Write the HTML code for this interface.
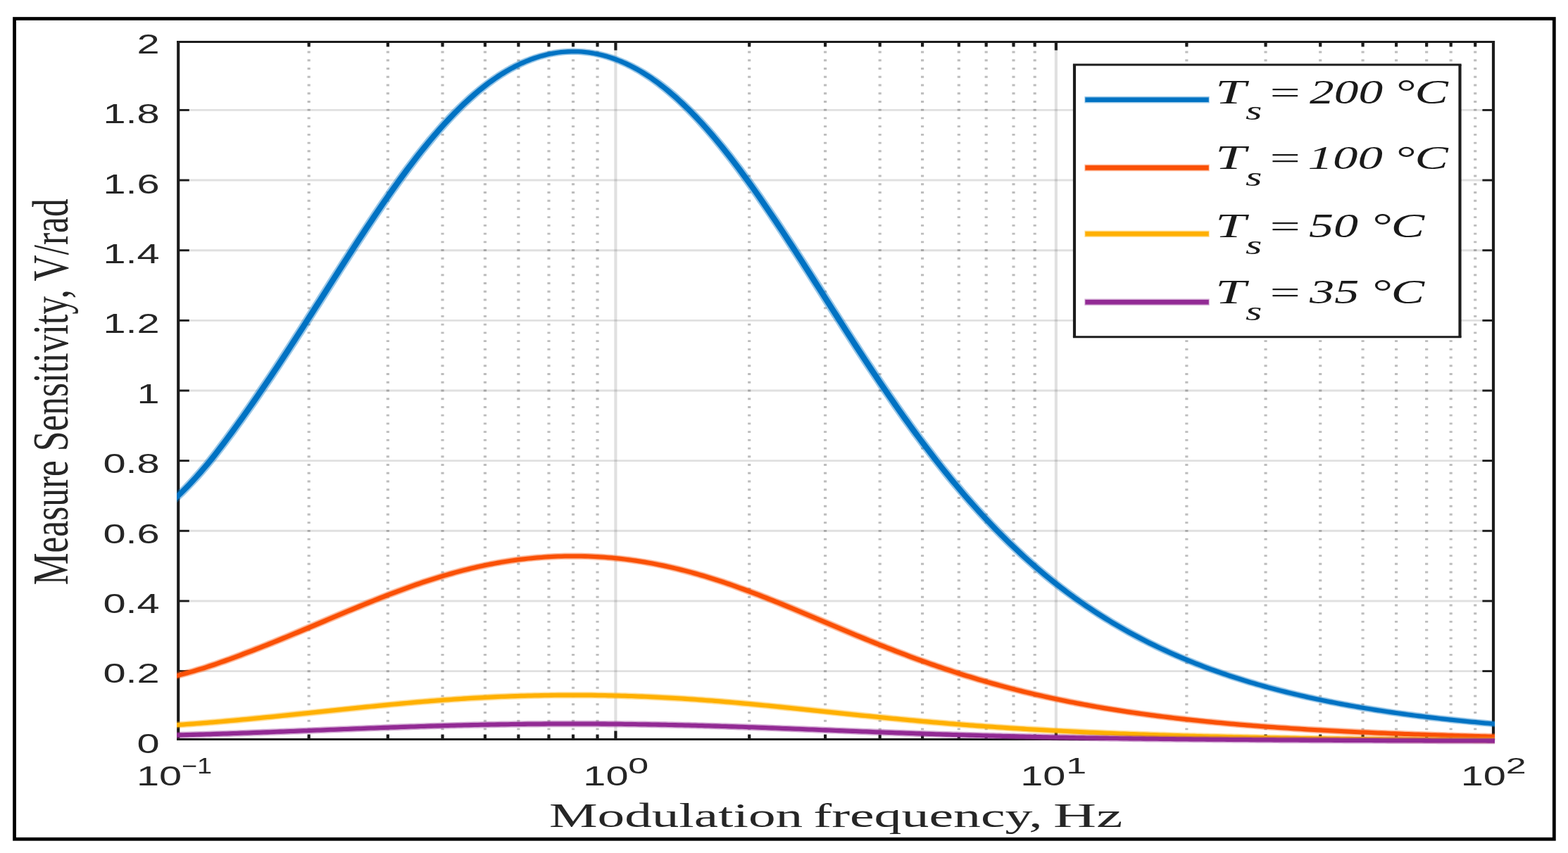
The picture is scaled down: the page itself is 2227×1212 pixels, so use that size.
<!DOCTYPE html>
<html lang="en">
<head>
<meta charset="utf-8">
<title>Measure Sensitivity vs Modulation frequency</title>
<style>
html,body{margin:0;padding:0;background:#ffffff;}
body{width:2227px;height:1212px;overflow:hidden;}
svg{display:block;}
</style>
</head>
<body>
<svg width="2227" height="1212" viewBox="0 0 2227 1212" role="img" aria-label="Measure Sensitivity versus Modulation frequency">
<rect x="0" y="0" width="2227" height="1212" fill="#ffffff"/>
<g id="chart">
<g id="grid">
<line x1="253.2" y1="953.60" x2="2121.0" y2="953.60" stroke="#262626" stroke-opacity="0.145" stroke-width="2.9"/>
<line x1="253.2" y1="853.95" x2="2121.0" y2="853.95" stroke="#262626" stroke-opacity="0.145" stroke-width="2.9"/>
<line x1="253.2" y1="754.30" x2="2121.0" y2="754.30" stroke="#262626" stroke-opacity="0.145" stroke-width="2.9"/>
<line x1="253.2" y1="654.65" x2="2121.0" y2="654.65" stroke="#262626" stroke-opacity="0.145" stroke-width="2.9"/>
<line x1="253.2" y1="555.00" x2="2121.0" y2="555.00" stroke="#262626" stroke-opacity="0.145" stroke-width="2.9"/>
<line x1="253.2" y1="455.35" x2="2121.0" y2="455.35" stroke="#262626" stroke-opacity="0.145" stroke-width="2.9"/>
<line x1="253.2" y1="355.70" x2="2121.0" y2="355.70" stroke="#262626" stroke-opacity="0.145" stroke-width="2.9"/>
<line x1="253.2" y1="256.05" x2="2121.0" y2="256.05" stroke="#262626" stroke-opacity="0.145" stroke-width="2.9"/>
<line x1="253.2" y1="156.40" x2="2121.0" y2="156.40" stroke="#262626" stroke-opacity="0.145" stroke-width="2.9"/>
<line x1="874.40" y1="59.5" x2="874.40" y2="1050.5" stroke="#262626" stroke-opacity="0.145" stroke-width="4.15"/>
<line x1="1499.90" y1="59.5" x2="1499.90" y2="1050.5" stroke="#262626" stroke-opacity="0.145" stroke-width="4.15"/>
<line x1="438.71" y1="60.87" x2="438.71" y2="1050.50" stroke="#262626" stroke-opacity="0.30" stroke-width="4.15" stroke-dasharray="2.9 8.83"/>
<line x1="550.87" y1="60.87" x2="550.87" y2="1050.50" stroke="#262626" stroke-opacity="0.30" stroke-width="4.15" stroke-dasharray="2.9 8.83"/>
<line x1="628.51" y1="60.87" x2="628.51" y2="1050.50" stroke="#262626" stroke-opacity="0.30" stroke-width="4.15" stroke-dasharray="2.9 8.83"/>
<line x1="688.91" y1="60.87" x2="688.91" y2="1050.50" stroke="#262626" stroke-opacity="0.30" stroke-width="4.15" stroke-dasharray="2.9 8.83"/>
<line x1="736.36" y1="60.87" x2="736.36" y2="1050.50" stroke="#262626" stroke-opacity="0.30" stroke-width="4.15" stroke-dasharray="2.9 8.83"/>
<line x1="779.50" y1="60.87" x2="779.50" y2="1050.50" stroke="#262626" stroke-opacity="0.30" stroke-width="4.15" stroke-dasharray="2.9 8.83"/>
<line x1="814.01" y1="60.87" x2="814.01" y2="1050.50" stroke="#262626" stroke-opacity="0.30" stroke-width="4.15" stroke-dasharray="2.9 8.83"/>
<line x1="848.52" y1="60.87" x2="848.52" y2="1050.50" stroke="#262626" stroke-opacity="0.30" stroke-width="4.15" stroke-dasharray="2.9 8.83"/>
<line x1="1064.21" y1="60.87" x2="1064.21" y2="1050.50" stroke="#262626" stroke-opacity="0.30" stroke-width="4.15" stroke-dasharray="2.9 8.83"/>
<line x1="1172.05" y1="60.87" x2="1172.05" y2="1050.50" stroke="#262626" stroke-opacity="0.30" stroke-width="4.15" stroke-dasharray="2.9 8.83"/>
<line x1="1249.70" y1="60.87" x2="1249.70" y2="1050.50" stroke="#262626" stroke-opacity="0.30" stroke-width="4.15" stroke-dasharray="2.9 8.83"/>
<line x1="1310.09" y1="60.87" x2="1310.09" y2="1050.50" stroke="#262626" stroke-opacity="0.30" stroke-width="4.15" stroke-dasharray="2.9 8.83"/>
<line x1="1361.86" y1="60.87" x2="1361.86" y2="1050.50" stroke="#262626" stroke-opacity="0.30" stroke-width="4.15" stroke-dasharray="2.9 8.83"/>
<line x1="1400.68" y1="60.87" x2="1400.68" y2="1050.50" stroke="#262626" stroke-opacity="0.30" stroke-width="4.15" stroke-dasharray="2.9 8.83"/>
<line x1="1439.51" y1="60.87" x2="1439.51" y2="1050.50" stroke="#262626" stroke-opacity="0.30" stroke-width="4.15" stroke-dasharray="2.9 8.83"/>
<line x1="1469.70" y1="60.87" x2="1469.70" y2="1050.50" stroke="#262626" stroke-opacity="0.30" stroke-width="4.15" stroke-dasharray="2.9 8.83"/>
<line x1="1685.39" y1="60.87" x2="1685.39" y2="1050.50" stroke="#262626" stroke-opacity="0.30" stroke-width="4.15" stroke-dasharray="2.9 8.83"/>
<line x1="1797.55" y1="60.87" x2="1797.55" y2="1050.50" stroke="#262626" stroke-opacity="0.30" stroke-width="4.15" stroke-dasharray="2.9 8.83"/>
<line x1="1875.20" y1="60.87" x2="1875.20" y2="1050.50" stroke="#262626" stroke-opacity="0.30" stroke-width="4.15" stroke-dasharray="2.9 8.83"/>
<line x1="1935.59" y1="60.87" x2="1935.59" y2="1050.50" stroke="#262626" stroke-opacity="0.30" stroke-width="4.15" stroke-dasharray="2.9 8.83"/>
<line x1="1983.05" y1="60.87" x2="1983.05" y2="1050.50" stroke="#262626" stroke-opacity="0.30" stroke-width="4.15" stroke-dasharray="2.9 8.83"/>
<line x1="2026.18" y1="60.87" x2="2026.18" y2="1050.50" stroke="#262626" stroke-opacity="0.30" stroke-width="4.15" stroke-dasharray="2.9 8.83"/>
<line x1="2060.69" y1="60.87" x2="2060.69" y2="1050.50" stroke="#262626" stroke-opacity="0.30" stroke-width="4.15" stroke-dasharray="2.9 8.83"/>
<line x1="2095.21" y1="60.87" x2="2095.21" y2="1050.50" stroke="#262626" stroke-opacity="0.30" stroke-width="4.15" stroke-dasharray="2.9 8.83"/>
</g>
<g id="ticks" stroke="#1c1c1c">
<line x1="253.2" y1="953.60" x2="268.77" y2="953.60" stroke-width="2.9"/>
<line x1="2121.0" y1="953.60" x2="2105.43" y2="953.60" stroke-width="2.9"/>
<line x1="253.2" y1="853.95" x2="268.77" y2="853.95" stroke-width="2.9"/>
<line x1="2121.0" y1="853.95" x2="2105.43" y2="853.95" stroke-width="2.9"/>
<line x1="253.2" y1="754.30" x2="268.77" y2="754.30" stroke-width="2.9"/>
<line x1="2121.0" y1="754.30" x2="2105.43" y2="754.30" stroke-width="2.9"/>
<line x1="253.2" y1="654.65" x2="268.77" y2="654.65" stroke-width="2.9"/>
<line x1="2121.0" y1="654.65" x2="2105.43" y2="654.65" stroke-width="2.9"/>
<line x1="253.2" y1="555.00" x2="268.77" y2="555.00" stroke-width="2.9"/>
<line x1="2121.0" y1="555.00" x2="2105.43" y2="555.00" stroke-width="2.9"/>
<line x1="253.2" y1="455.35" x2="268.77" y2="455.35" stroke-width="2.9"/>
<line x1="2121.0" y1="455.35" x2="2105.43" y2="455.35" stroke-width="2.9"/>
<line x1="253.2" y1="355.70" x2="268.77" y2="355.70" stroke-width="2.9"/>
<line x1="2121.0" y1="355.70" x2="2105.43" y2="355.70" stroke-width="2.9"/>
<line x1="253.2" y1="256.05" x2="268.77" y2="256.05" stroke-width="2.9"/>
<line x1="2121.0" y1="256.05" x2="2105.43" y2="256.05" stroke-width="2.9"/>
<line x1="253.2" y1="156.40" x2="268.77" y2="156.40" stroke-width="2.9"/>
<line x1="2121.0" y1="156.40" x2="2105.43" y2="156.40" stroke-width="2.9"/>
<line x1="438.71" y1="59.5" x2="438.71" y2="66.45" stroke-width="4.15"/>
<line x1="438.71" y1="1050.5" x2="438.71" y2="1043.55" stroke-width="4.15"/>
<line x1="550.87" y1="59.5" x2="550.87" y2="66.45" stroke-width="4.15"/>
<line x1="550.87" y1="1050.5" x2="550.87" y2="1043.55" stroke-width="4.15"/>
<line x1="628.51" y1="59.5" x2="628.51" y2="66.45" stroke-width="4.15"/>
<line x1="628.51" y1="1050.5" x2="628.51" y2="1043.55" stroke-width="4.15"/>
<line x1="688.91" y1="59.5" x2="688.91" y2="66.45" stroke-width="4.15"/>
<line x1="688.91" y1="1050.5" x2="688.91" y2="1043.55" stroke-width="4.15"/>
<line x1="736.36" y1="59.5" x2="736.36" y2="66.45" stroke-width="4.15"/>
<line x1="736.36" y1="1050.5" x2="736.36" y2="1043.55" stroke-width="4.15"/>
<line x1="779.50" y1="59.5" x2="779.50" y2="66.45" stroke-width="4.15"/>
<line x1="779.50" y1="1050.5" x2="779.50" y2="1043.55" stroke-width="4.15"/>
<line x1="814.01" y1="59.5" x2="814.01" y2="66.45" stroke-width="4.15"/>
<line x1="814.01" y1="1050.5" x2="814.01" y2="1043.55" stroke-width="4.15"/>
<line x1="848.52" y1="59.5" x2="848.52" y2="66.45" stroke-width="4.15"/>
<line x1="848.52" y1="1050.5" x2="848.52" y2="1043.55" stroke-width="4.15"/>
<line x1="874.40" y1="59.5" x2="874.40" y2="71.45" stroke-width="4.15"/>
<line x1="874.40" y1="1050.5" x2="874.40" y2="1038.55" stroke-width="4.15"/>
<line x1="1064.21" y1="59.5" x2="1064.21" y2="66.45" stroke-width="4.15"/>
<line x1="1064.21" y1="1050.5" x2="1064.21" y2="1043.55" stroke-width="4.15"/>
<line x1="1172.05" y1="59.5" x2="1172.05" y2="66.45" stroke-width="4.15"/>
<line x1="1172.05" y1="1050.5" x2="1172.05" y2="1043.55" stroke-width="4.15"/>
<line x1="1249.70" y1="59.5" x2="1249.70" y2="66.45" stroke-width="4.15"/>
<line x1="1249.70" y1="1050.5" x2="1249.70" y2="1043.55" stroke-width="4.15"/>
<line x1="1310.09" y1="59.5" x2="1310.09" y2="66.45" stroke-width="4.15"/>
<line x1="1310.09" y1="1050.5" x2="1310.09" y2="1043.55" stroke-width="4.15"/>
<line x1="1361.86" y1="59.5" x2="1361.86" y2="66.45" stroke-width="4.15"/>
<line x1="1361.86" y1="1050.5" x2="1361.86" y2="1043.55" stroke-width="4.15"/>
<line x1="1400.68" y1="59.5" x2="1400.68" y2="66.45" stroke-width="4.15"/>
<line x1="1400.68" y1="1050.5" x2="1400.68" y2="1043.55" stroke-width="4.15"/>
<line x1="1439.51" y1="59.5" x2="1439.51" y2="66.45" stroke-width="4.15"/>
<line x1="1439.51" y1="1050.5" x2="1439.51" y2="1043.55" stroke-width="4.15"/>
<line x1="1469.70" y1="59.5" x2="1469.70" y2="66.45" stroke-width="4.15"/>
<line x1="1469.70" y1="1050.5" x2="1469.70" y2="1043.55" stroke-width="4.15"/>
<line x1="1499.90" y1="59.5" x2="1499.90" y2="71.45" stroke-width="4.15"/>
<line x1="1499.90" y1="1050.5" x2="1499.90" y2="1038.55" stroke-width="4.15"/>
<line x1="1685.39" y1="59.5" x2="1685.39" y2="66.45" stroke-width="4.15"/>
<line x1="1685.39" y1="1050.5" x2="1685.39" y2="1043.55" stroke-width="4.15"/>
<line x1="1797.55" y1="59.5" x2="1797.55" y2="66.45" stroke-width="4.15"/>
<line x1="1797.55" y1="1050.5" x2="1797.55" y2="1043.55" stroke-width="4.15"/>
<line x1="1875.20" y1="59.5" x2="1875.20" y2="66.45" stroke-width="4.15"/>
<line x1="1875.20" y1="1050.5" x2="1875.20" y2="1043.55" stroke-width="4.15"/>
<line x1="1935.59" y1="59.5" x2="1935.59" y2="66.45" stroke-width="4.15"/>
<line x1="1935.59" y1="1050.5" x2="1935.59" y2="1043.55" stroke-width="4.15"/>
<line x1="1983.05" y1="59.5" x2="1983.05" y2="66.45" stroke-width="4.15"/>
<line x1="1983.05" y1="1050.5" x2="1983.05" y2="1043.55" stroke-width="4.15"/>
<line x1="2026.18" y1="59.5" x2="2026.18" y2="66.45" stroke-width="4.15"/>
<line x1="2026.18" y1="1050.5" x2="2026.18" y2="1043.55" stroke-width="4.15"/>
<line x1="2060.69" y1="59.5" x2="2060.69" y2="66.45" stroke-width="4.15"/>
<line x1="2060.69" y1="1050.5" x2="2060.69" y2="1043.55" stroke-width="4.15"/>
<line x1="2095.21" y1="59.5" x2="2095.21" y2="66.45" stroke-width="4.15"/>
<line x1="2095.21" y1="1050.5" x2="2095.21" y2="1043.55" stroke-width="4.15"/>
</g>
<g id="box" stroke="#1c1c1c" fill="none">
<line x1="251.125" y1="59.5" x2="2123.075" y2="59.5" stroke-width="2.9"/>
<line x1="251.125" y1="1050.5" x2="2123.075" y2="1050.5" stroke-width="2.9"/>
<line x1="253.2" y1="58.05" x2="253.2" y2="1051.95" stroke-width="4.15"/>
<line x1="2121.0" y1="58.05" x2="2121.0" y2="1051.95" stroke-width="4.15"/>
</g>
<clipPath id="cp"><rect x="251.12" y="50" width="1871.95" height="1012"/></clipPath>
<g clip-path="url(#cp)"><g id="curves" fill="none" stroke-linejoin="round" stroke-linecap="butt" transform="scale(1.49,1)">
<polyline points="158.72,719.65 161.91,715.42 165.10,711.07 168.29,706.60 171.48,702.02 174.67,697.31 177.86,692.48 181.05,687.52 184.24,682.43 187.43,677.20 190.62,671.84 193.81,666.34 197.00,660.70 200.19,654.92 203.38,649.00 206.57,642.92 209.76,636.70 212.95,630.39 216.14,624.02 219.33,617.59 222.52,611.09 225.71,604.54 228.90,597.92 232.09,591.25 235.28,584.52 238.47,577.73 241.66,570.90 244.85,564.00 248.04,557.06 251.23,550.07 254.42,543.03 257.61,535.95 260.80,528.82 263.99,521.66 267.18,514.45 270.37,507.21 273.56,499.93 276.75,492.62 279.94,485.28 283.13,477.91 286.32,470.52 289.51,463.10 292.70,455.67 295.89,448.22 299.08,440.76 302.27,433.29 305.46,425.81 308.65,418.33 311.84,410.85 315.03,403.37 318.22,395.90 321.41,388.44 324.60,381.00 327.79,373.56 330.98,366.15 334.17,358.77 337.36,351.41 340.55,344.08 343.74,336.79 346.93,329.54 350.12,322.33 353.31,315.17 356.50,308.05 359.69,300.99 362.88,293.99 366.07,287.05 369.26,280.17 372.45,273.36 375.64,266.62 378.83,259.95 382.02,253.37 385.21,246.86 388.40,240.44 391.59,234.11 394.78,227.87 397.97,221.72 401.16,215.67 404.35,209.72 407.54,203.88 410.73,198.14 413.92,192.51 417.11,186.99 420.30,181.58 423.49,176.29 426.68,171.11 429.87,166.06 433.06,161.13 436.25,156.32 439.44,151.63 442.63,147.08 445.82,142.65 449.01,138.35 452.20,134.18 455.39,130.15 458.58,126.25 461.77,122.48 464.96,118.85 468.15,115.36 471.34,112.00 474.53,108.78 477.72,105.70 480.91,102.76 484.10,99.95 487.29,97.29 490.48,94.76 493.67,92.38 496.86,90.13 500.05,88.02 503.24,86.06 506.43,84.23 509.62,82.54 512.80,81.00 515.99,79.59 519.18,78.32 522.37,77.20 525.56,76.21 528.75,75.36 531.94,74.65 535.13,74.08 538.32,73.66 541.51,73.37 544.70,73.22 547.89,73.20 551.08,73.33 554.27,73.60 557.46,74.01 560.65,74.55 563.84,75.24 567.03,76.07 570.22,77.03 573.41,78.14 576.60,79.38 579.79,80.77 582.98,82.29 586.17,83.95 589.36,85.76 592.55,87.70 595.74,89.79 598.93,92.01 602.12,94.38 605.31,96.88 608.50,99.52 611.69,102.30 614.88,105.23 618.07,108.29 621.26,111.48 624.45,114.82 627.64,118.29 630.83,121.90 634.02,125.65 637.21,129.53 640.40,133.54 643.59,137.68 646.78,141.96 649.97,146.37 653.16,150.91 656.35,155.57 659.54,160.36 662.73,165.27 665.92,170.31 669.11,175.46 672.30,180.74 675.49,186.12 678.68,191.63 681.87,197.24 685.06,202.97 688.25,208.79 691.44,214.73 694.63,220.76 697.82,226.89 701.01,233.12 704.20,239.43 707.39,245.84 710.58,252.33 713.77,258.91 716.96,265.56 720.15,272.29 723.34,279.09 726.53,285.95 729.72,292.89 732.91,299.88 736.10,306.93 739.29,314.04 742.48,321.20 745.67,328.40 748.86,335.65 752.05,342.93 755.24,350.25 758.43,357.61 761.62,364.99 764.81,372.39 768.00,379.82 771.19,387.27 774.38,394.72 777.57,402.19 780.76,409.67 783.95,417.15 787.14,424.63 790.33,432.11 793.52,439.58 796.71,447.05 799.90,454.50 803.09,461.93 806.28,469.35 809.47,476.74 812.66,484.11 815.85,491.46 819.04,498.77 822.23,506.06 825.42,513.31 828.61,520.52 831.80,527.70 834.99,534.83 838.18,541.92 841.37,548.96 844.56,555.96 847.75,562.91 850.94,569.81 854.13,576.66 857.32,583.45 860.51,590.19 863.70,596.87 866.89,603.50 870.08,610.06 873.27,616.57 876.46,623.01 879.65,629.39 882.84,635.71 886.03,641.97 889.22,648.16 892.41,654.28 895.60,660.34 898.79,666.34 901.98,672.27 905.17,678.13 908.36,683.92 911.55,689.64 914.74,695.30 917.93,700.89 921.12,706.41 924.31,711.86 927.50,717.25 930.69,722.56 933.88,727.81 937.07,732.99 940.26,738.10 943.45,743.15 946.64,748.12 949.83,753.03 953.02,757.88 956.21,762.65 959.40,767.36 962.59,772.01 965.78,776.59 968.97,781.10 972.16,785.54 975.35,789.92 978.54,794.24 981.73,798.49 984.92,802.68 988.11,806.80 991.30,810.86 994.49,814.86 997.68,818.80 1000.87,822.68 1004.06,826.50 1007.25,830.25 1010.44,833.95 1013.63,837.60 1016.82,841.18 1020.01,844.71 1023.20,848.18 1026.39,851.60 1029.58,854.96 1032.77,858.27 1035.96,861.52 1039.15,864.73 1042.34,867.88 1045.53,870.98 1048.72,874.03 1051.91,877.03 1055.10,879.98 1058.29,882.88 1061.48,885.74 1064.67,888.55 1067.86,891.31 1071.05,894.03 1074.24,896.70 1077.43,899.33 1080.62,901.92 1083.81,904.46 1087.00,906.96 1090.19,909.42 1093.38,911.84 1096.57,914.21 1099.76,916.55 1102.95,918.85 1106.14,921.11 1109.33,923.33 1112.52,925.52 1115.71,927.67 1118.90,929.78 1122.09,931.86 1125.28,933.90 1128.47,935.91 1131.66,937.88 1134.85,939.82 1138.04,941.73 1141.23,943.61 1144.42,945.45 1147.61,947.27 1150.80,949.05 1153.99,950.80 1157.18,952.52 1160.37,954.22 1163.56,955.88 1166.75,957.52 1169.94,959.13 1173.13,960.71 1176.32,962.26 1179.51,963.79 1182.70,965.30 1185.89,966.77 1189.08,968.23 1192.27,969.65 1195.46,971.06 1198.65,972.44 1201.84,973.79 1205.03,975.13 1208.22,976.44 1211.41,977.72 1214.60,978.99 1217.79,980.23 1220.98,981.46 1224.17,982.66 1227.36,983.84 1230.55,985.01 1233.74,986.15 1236.93,987.27 1240.12,988.38 1243.31,989.46 1246.50,990.53 1249.69,991.58 1252.88,992.61 1256.07,993.62 1259.26,994.62 1262.45,995.60 1265.64,996.56 1268.83,997.51 1272.02,998.44 1275.21,999.35 1278.40,1000.25 1281.59,1001.13 1284.78,1002.00 1287.97,1002.86 1291.16,1003.70 1294.35,1004.52 1297.54,1005.33 1300.73,1006.13 1303.92,1006.91 1307.10,1007.68 1310.29,1008.44 1313.48,1009.19 1316.67,1009.92 1319.86,1010.64 1323.05,1011.35 1326.24,1012.04 1329.43,1012.73 1332.62,1013.40 1335.81,1014.06 1339.00,1014.71 1342.19,1015.35 1345.38,1015.98 1348.57,1016.60 1351.76,1017.20 1354.95,1017.80 1358.14,1018.39 1361.33,1018.96 1364.52,1019.53 1367.71,1020.09 1370.90,1020.64 1374.09,1021.18 1377.28,1021.71 1380.47,1022.23 1383.66,1022.74 1386.85,1023.24 1390.04,1023.74 1393.23,1024.22 1396.42,1024.70 1399.61,1025.17 1402.80,1025.64 1405.99,1026.09 1409.18,1026.54 1412.37,1026.98 1415.56,1027.41 1418.75,1027.84 1421.94,1028.25 1425.13,1028.67 1428.32,1029.07 1431.51,1029.47 1434.70,1029.86" stroke="#0072c3" stroke-opacity="0.4" stroke-width="9.40"/>
<polyline points="158.72,719.65 161.91,715.42 165.10,711.07 168.29,706.60 171.48,702.02 174.67,697.31 177.86,692.48 181.05,687.52 184.24,682.43 187.43,677.20 190.62,671.84 193.81,666.34 197.00,660.70 200.19,654.92 203.38,649.00 206.57,642.92 209.76,636.70 212.95,630.39 216.14,624.02 219.33,617.59 222.52,611.09 225.71,604.54 228.90,597.92 232.09,591.25 235.28,584.52 238.47,577.73 241.66,570.90 244.85,564.00 248.04,557.06 251.23,550.07 254.42,543.03 257.61,535.95 260.80,528.82 263.99,521.66 267.18,514.45 270.37,507.21 273.56,499.93 276.75,492.62 279.94,485.28 283.13,477.91 286.32,470.52 289.51,463.10 292.70,455.67 295.89,448.22 299.08,440.76 302.27,433.29 305.46,425.81 308.65,418.33 311.84,410.85 315.03,403.37 318.22,395.90 321.41,388.44 324.60,381.00 327.79,373.56 330.98,366.15 334.17,358.77 337.36,351.41 340.55,344.08 343.74,336.79 346.93,329.54 350.12,322.33 353.31,315.17 356.50,308.05 359.69,300.99 362.88,293.99 366.07,287.05 369.26,280.17 372.45,273.36 375.64,266.62 378.83,259.95 382.02,253.37 385.21,246.86 388.40,240.44 391.59,234.11 394.78,227.87 397.97,221.72 401.16,215.67 404.35,209.72 407.54,203.88 410.73,198.14 413.92,192.51 417.11,186.99 420.30,181.58 423.49,176.29 426.68,171.11 429.87,166.06 433.06,161.13 436.25,156.32 439.44,151.63 442.63,147.08 445.82,142.65 449.01,138.35 452.20,134.18 455.39,130.15 458.58,126.25 461.77,122.48 464.96,118.85 468.15,115.36 471.34,112.00 474.53,108.78 477.72,105.70 480.91,102.76 484.10,99.95 487.29,97.29 490.48,94.76 493.67,92.38 496.86,90.13 500.05,88.02 503.24,86.06 506.43,84.23 509.62,82.54 512.80,81.00 515.99,79.59 519.18,78.32 522.37,77.20 525.56,76.21 528.75,75.36 531.94,74.65 535.13,74.08 538.32,73.66 541.51,73.37 544.70,73.22 547.89,73.20 551.08,73.33 554.27,73.60 557.46,74.01 560.65,74.55 563.84,75.24 567.03,76.07 570.22,77.03 573.41,78.14 576.60,79.38 579.79,80.77 582.98,82.29 586.17,83.95 589.36,85.76 592.55,87.70 595.74,89.79 598.93,92.01 602.12,94.38 605.31,96.88 608.50,99.52 611.69,102.30 614.88,105.23 618.07,108.29 621.26,111.48 624.45,114.82 627.64,118.29 630.83,121.90 634.02,125.65 637.21,129.53 640.40,133.54 643.59,137.68 646.78,141.96 649.97,146.37 653.16,150.91 656.35,155.57 659.54,160.36 662.73,165.27 665.92,170.31 669.11,175.46 672.30,180.74 675.49,186.12 678.68,191.63 681.87,197.24 685.06,202.97 688.25,208.79 691.44,214.73 694.63,220.76 697.82,226.89 701.01,233.12 704.20,239.43 707.39,245.84 710.58,252.33 713.77,258.91 716.96,265.56 720.15,272.29 723.34,279.09 726.53,285.95 729.72,292.89 732.91,299.88 736.10,306.93 739.29,314.04 742.48,321.20 745.67,328.40 748.86,335.65 752.05,342.93 755.24,350.25 758.43,357.61 761.62,364.99 764.81,372.39 768.00,379.82 771.19,387.27 774.38,394.72 777.57,402.19 780.76,409.67 783.95,417.15 787.14,424.63 790.33,432.11 793.52,439.58 796.71,447.05 799.90,454.50 803.09,461.93 806.28,469.35 809.47,476.74 812.66,484.11 815.85,491.46 819.04,498.77 822.23,506.06 825.42,513.31 828.61,520.52 831.80,527.70 834.99,534.83 838.18,541.92 841.37,548.96 844.56,555.96 847.75,562.91 850.94,569.81 854.13,576.66 857.32,583.45 860.51,590.19 863.70,596.87 866.89,603.50 870.08,610.06 873.27,616.57 876.46,623.01 879.65,629.39 882.84,635.71 886.03,641.97 889.22,648.16 892.41,654.28 895.60,660.34 898.79,666.34 901.98,672.27 905.17,678.13 908.36,683.92 911.55,689.64 914.74,695.30 917.93,700.89 921.12,706.41 924.31,711.86 927.50,717.25 930.69,722.56 933.88,727.81 937.07,732.99 940.26,738.10 943.45,743.15 946.64,748.12 949.83,753.03 953.02,757.88 956.21,762.65 959.40,767.36 962.59,772.01 965.78,776.59 968.97,781.10 972.16,785.54 975.35,789.92 978.54,794.24 981.73,798.49 984.92,802.68 988.11,806.80 991.30,810.86 994.49,814.86 997.68,818.80 1000.87,822.68 1004.06,826.50 1007.25,830.25 1010.44,833.95 1013.63,837.60 1016.82,841.18 1020.01,844.71 1023.20,848.18 1026.39,851.60 1029.58,854.96 1032.77,858.27 1035.96,861.52 1039.15,864.73 1042.34,867.88 1045.53,870.98 1048.72,874.03 1051.91,877.03 1055.10,879.98 1058.29,882.88 1061.48,885.74 1064.67,888.55 1067.86,891.31 1071.05,894.03 1074.24,896.70 1077.43,899.33 1080.62,901.92 1083.81,904.46 1087.00,906.96 1090.19,909.42 1093.38,911.84 1096.57,914.21 1099.76,916.55 1102.95,918.85 1106.14,921.11 1109.33,923.33 1112.52,925.52 1115.71,927.67 1118.90,929.78 1122.09,931.86 1125.28,933.90 1128.47,935.91 1131.66,937.88 1134.85,939.82 1138.04,941.73 1141.23,943.61 1144.42,945.45 1147.61,947.27 1150.80,949.05 1153.99,950.80 1157.18,952.52 1160.37,954.22 1163.56,955.88 1166.75,957.52 1169.94,959.13 1173.13,960.71 1176.32,962.26 1179.51,963.79 1182.70,965.30 1185.89,966.77 1189.08,968.23 1192.27,969.65 1195.46,971.06 1198.65,972.44 1201.84,973.79 1205.03,975.13 1208.22,976.44 1211.41,977.72 1214.60,978.99 1217.79,980.23 1220.98,981.46 1224.17,982.66 1227.36,983.84 1230.55,985.01 1233.74,986.15 1236.93,987.27 1240.12,988.38 1243.31,989.46 1246.50,990.53 1249.69,991.58 1252.88,992.61 1256.07,993.62 1259.26,994.62 1262.45,995.60 1265.64,996.56 1268.83,997.51 1272.02,998.44 1275.21,999.35 1278.40,1000.25 1281.59,1001.13 1284.78,1002.00 1287.97,1002.86 1291.16,1003.70 1294.35,1004.52 1297.54,1005.33 1300.73,1006.13 1303.92,1006.91 1307.10,1007.68 1310.29,1008.44 1313.48,1009.19 1316.67,1009.92 1319.86,1010.64 1323.05,1011.35 1326.24,1012.04 1329.43,1012.73 1332.62,1013.40 1335.81,1014.06 1339.00,1014.71 1342.19,1015.35 1345.38,1015.98 1348.57,1016.60 1351.76,1017.20 1354.95,1017.80 1358.14,1018.39 1361.33,1018.96 1364.52,1019.53 1367.71,1020.09 1370.90,1020.64 1374.09,1021.18 1377.28,1021.71 1380.47,1022.23 1383.66,1022.74 1386.85,1023.24 1390.04,1023.74 1393.23,1024.22 1396.42,1024.70 1399.61,1025.17 1402.80,1025.64 1405.99,1026.09 1409.18,1026.54 1412.37,1026.98 1415.56,1027.41 1418.75,1027.84 1421.94,1028.25 1425.13,1028.67 1428.32,1029.07 1431.51,1029.47 1434.70,1029.86" stroke="#0072c3" stroke-width="6.04"/>
<polyline points="158.72,963.70 161.91,962.57 165.10,961.40 168.29,960.20 171.48,958.97 174.67,957.71 177.86,956.41 181.05,955.08 184.24,953.71 187.43,952.31 190.62,950.87 193.81,949.39 197.00,947.88 200.19,946.33 203.38,944.74 206.57,943.11 209.76,941.44 212.95,939.74 216.14,938.03 219.33,936.31 222.52,934.56 225.71,932.80 228.90,931.03 232.09,929.24 235.28,927.43 238.47,925.61 241.66,923.77 244.85,921.92 248.04,920.06 251.23,918.18 254.42,916.29 257.61,914.39 260.80,912.48 263.99,910.55 267.18,908.62 270.37,906.68 273.56,904.72 276.75,902.76 279.94,900.79 283.13,898.81 286.32,896.83 289.51,894.84 292.70,892.84 295.89,890.84 299.08,888.84 302.27,886.83 305.46,884.83 308.65,882.82 311.84,880.81 315.03,878.80 318.22,876.80 321.41,874.80 324.60,872.80 327.79,870.80 330.98,868.81 334.17,866.83 337.36,864.86 340.55,862.89 343.74,860.93 346.93,858.99 350.12,857.05 353.31,855.13 356.50,853.22 359.69,851.32 362.88,849.44 366.07,847.58 369.26,845.73 372.45,843.90 375.64,842.09 378.83,840.31 382.02,838.54 385.21,836.79 388.40,835.07 391.59,833.37 394.78,831.69 397.97,830.04 401.16,828.42 404.35,826.82 407.54,825.25 410.73,823.71 413.92,822.20 417.11,820.72 420.30,819.27 423.49,817.85 426.68,816.46 429.87,815.10 433.06,813.78 436.25,812.49 439.44,811.23 442.63,810.01 445.82,808.82 449.01,807.66 452.20,806.55 455.39,805.46 458.58,804.42 461.77,803.41 464.96,802.43 468.15,801.49 471.34,800.59 474.53,799.73 477.72,798.90 480.91,798.11 484.10,797.36 487.29,796.64 490.48,795.96 493.67,795.32 496.86,794.72 500.05,794.16 503.24,793.63 506.43,793.14 509.62,792.68 512.80,792.27 515.99,791.89 519.18,791.55 522.37,791.25 525.56,790.98 528.75,790.76 531.94,790.57 535.13,790.41 538.32,790.30 541.51,790.22 544.70,790.18 547.89,790.18 551.08,790.21 554.27,790.28 557.46,790.39 560.65,790.54 563.84,790.72 567.03,790.95 570.22,791.20 573.41,791.50 576.60,791.84 579.79,792.21 582.98,792.62 586.17,793.06 589.36,793.55 592.55,794.07 595.74,794.63 598.93,795.23 602.12,795.86 605.31,796.53 608.50,797.24 611.69,797.99 614.88,798.77 618.07,799.59 621.26,800.45 624.45,801.35 627.64,802.28 630.83,803.25 634.02,804.25 637.21,805.30 640.40,806.37 643.59,807.49 646.78,808.63 649.97,809.82 653.16,811.03 656.35,812.29 659.54,813.57 662.73,814.89 665.92,816.24 669.11,817.63 672.30,819.04 675.49,820.49 678.68,821.97 681.87,823.47 685.06,825.01 688.25,826.57 691.44,828.17 694.63,829.79 697.82,831.43 701.01,833.10 704.20,834.80 707.39,836.52 710.58,838.26 713.77,840.03 716.96,841.81 720.15,843.62 723.34,845.44 726.53,847.29 729.72,849.15 732.91,851.02 736.10,852.92 739.29,854.82 742.48,856.75 745.67,858.68 748.86,860.62 752.05,862.58 755.24,864.54 758.43,866.52 761.62,868.50 764.81,870.49 768.00,872.48 771.19,874.48 774.38,876.48 777.57,878.49 780.76,880.49 783.95,882.50 787.14,884.51 790.33,886.52 793.52,888.52 796.71,890.53 799.90,892.53 803.09,894.52 806.28,896.51 809.47,898.50 812.66,900.48 815.85,902.45 819.04,904.41 822.23,906.37 825.42,908.31 828.61,910.25 831.80,912.18 834.99,914.09 838.18,915.99 841.37,917.89 844.56,919.76 847.75,921.63 850.94,923.48 854.13,925.32 857.32,927.14 860.51,928.95 863.70,930.74 866.89,932.52 870.08,934.29 873.27,936.03 876.46,937.76 879.65,939.47 882.84,941.17 886.03,942.85 889.22,944.51 892.41,946.16 895.60,947.78 898.79,949.39 901.98,950.98 905.17,952.56 908.36,954.11 911.55,955.65 914.74,957.17 917.93,958.67 921.12,960.15 924.31,961.61 927.50,963.06 930.69,964.48 933.88,965.89 937.07,967.28 940.26,968.66 943.45,970.01 946.64,971.35 949.83,972.66 953.02,973.96 956.21,975.25 959.40,976.51 962.59,977.76 965.78,978.99 968.97,980.20 972.16,981.39 975.35,982.57 978.54,983.72 981.73,984.87 984.92,985.99 988.11,987.10 991.30,988.19 994.49,989.26 997.68,990.32 1000.87,991.36 1004.06,992.38 1007.25,993.39 1010.44,994.38 1013.63,995.36 1016.82,996.32 1020.01,997.27 1023.20,998.20 1026.39,999.12 1029.58,1000.02 1032.77,1000.91 1035.96,1001.78 1039.15,1002.64 1042.34,1003.49 1045.53,1004.32 1048.72,1005.14 1051.91,1005.95 1055.10,1006.74 1058.29,1007.52 1061.48,1008.29 1064.67,1009.04 1067.86,1009.78 1071.05,1010.51 1074.24,1011.23 1077.43,1011.93 1080.62,1012.63 1083.81,1013.31 1087.00,1013.98 1090.19,1014.64 1093.38,1015.29 1096.57,1015.93 1099.76,1016.56 1102.95,1017.17 1106.14,1017.78 1109.33,1018.38 1112.52,1018.96 1115.71,1019.54 1118.90,1020.11 1122.09,1020.66 1125.28,1021.21 1128.47,1021.75 1131.66,1022.28 1134.85,1022.80 1138.04,1023.32 1141.23,1023.82 1144.42,1024.31 1147.61,1024.80 1150.80,1025.28 1153.99,1025.75 1157.18,1026.21 1160.37,1026.67 1163.56,1027.11 1166.75,1027.55 1169.94,1027.98 1173.13,1028.41 1176.32,1028.83 1179.51,1029.24 1182.70,1029.64 1185.89,1030.04 1189.08,1030.43 1192.27,1030.81 1195.46,1031.19 1198.65,1031.56 1201.84,1031.92 1205.03,1032.28 1208.22,1032.63 1211.41,1032.98 1214.60,1033.32 1217.79,1033.65 1220.98,1033.98 1224.17,1034.30 1227.36,1034.62 1230.55,1034.93 1233.74,1035.24 1236.93,1035.54 1240.12,1035.84 1243.31,1036.13 1246.50,1036.41 1249.69,1036.70 1252.88,1036.97 1256.07,1037.24 1259.26,1037.51 1262.45,1037.77 1265.64,1038.03 1268.83,1038.29 1272.02,1038.54 1275.21,1038.78 1278.40,1039.02 1281.59,1039.26 1284.78,1039.49 1287.97,1039.72 1291.16,1039.95 1294.35,1040.17 1297.54,1040.39 1300.73,1040.60 1303.92,1040.81 1307.10,1041.02 1310.29,1041.22 1313.48,1041.42 1316.67,1041.62 1319.86,1041.81 1323.05,1042.00 1326.24,1042.19 1329.43,1042.37 1332.62,1042.55 1335.81,1042.73 1339.00,1042.91 1342.19,1043.08 1345.38,1043.25 1348.57,1043.41 1351.76,1043.57 1354.95,1043.73 1358.14,1043.89 1361.33,1044.05 1364.52,1044.20 1367.71,1044.35 1370.90,1044.50 1374.09,1044.64 1377.28,1044.78 1380.47,1044.92 1383.66,1045.06 1386.85,1045.20 1390.04,1045.33 1393.23,1045.46 1396.42,1045.59 1399.61,1045.71 1402.80,1045.84 1405.99,1045.96 1409.18,1046.08 1412.37,1046.20 1415.56,1046.31 1418.75,1046.43 1421.94,1046.54 1425.13,1046.65 1428.32,1046.76 1431.51,1046.87 1434.70,1046.97" stroke="#fa5005" stroke-opacity="0.4" stroke-width="9.40"/>
<polyline points="158.72,963.70 161.91,962.57 165.10,961.40 168.29,960.20 171.48,958.97 174.67,957.71 177.86,956.41 181.05,955.08 184.24,953.71 187.43,952.31 190.62,950.87 193.81,949.39 197.00,947.88 200.19,946.33 203.38,944.74 206.57,943.11 209.76,941.44 212.95,939.74 216.14,938.03 219.33,936.31 222.52,934.56 225.71,932.80 228.90,931.03 232.09,929.24 235.28,927.43 238.47,925.61 241.66,923.77 244.85,921.92 248.04,920.06 251.23,918.18 254.42,916.29 257.61,914.39 260.80,912.48 263.99,910.55 267.18,908.62 270.37,906.68 273.56,904.72 276.75,902.76 279.94,900.79 283.13,898.81 286.32,896.83 289.51,894.84 292.70,892.84 295.89,890.84 299.08,888.84 302.27,886.83 305.46,884.83 308.65,882.82 311.84,880.81 315.03,878.80 318.22,876.80 321.41,874.80 324.60,872.80 327.79,870.80 330.98,868.81 334.17,866.83 337.36,864.86 340.55,862.89 343.74,860.93 346.93,858.99 350.12,857.05 353.31,855.13 356.50,853.22 359.69,851.32 362.88,849.44 366.07,847.58 369.26,845.73 372.45,843.90 375.64,842.09 378.83,840.31 382.02,838.54 385.21,836.79 388.40,835.07 391.59,833.37 394.78,831.69 397.97,830.04 401.16,828.42 404.35,826.82 407.54,825.25 410.73,823.71 413.92,822.20 417.11,820.72 420.30,819.27 423.49,817.85 426.68,816.46 429.87,815.10 433.06,813.78 436.25,812.49 439.44,811.23 442.63,810.01 445.82,808.82 449.01,807.66 452.20,806.55 455.39,805.46 458.58,804.42 461.77,803.41 464.96,802.43 468.15,801.49 471.34,800.59 474.53,799.73 477.72,798.90 480.91,798.11 484.10,797.36 487.29,796.64 490.48,795.96 493.67,795.32 496.86,794.72 500.05,794.16 503.24,793.63 506.43,793.14 509.62,792.68 512.80,792.27 515.99,791.89 519.18,791.55 522.37,791.25 525.56,790.98 528.75,790.76 531.94,790.57 535.13,790.41 538.32,790.30 541.51,790.22 544.70,790.18 547.89,790.18 551.08,790.21 554.27,790.28 557.46,790.39 560.65,790.54 563.84,790.72 567.03,790.95 570.22,791.20 573.41,791.50 576.60,791.84 579.79,792.21 582.98,792.62 586.17,793.06 589.36,793.55 592.55,794.07 595.74,794.63 598.93,795.23 602.12,795.86 605.31,796.53 608.50,797.24 611.69,797.99 614.88,798.77 618.07,799.59 621.26,800.45 624.45,801.35 627.64,802.28 630.83,803.25 634.02,804.25 637.21,805.30 640.40,806.37 643.59,807.49 646.78,808.63 649.97,809.82 653.16,811.03 656.35,812.29 659.54,813.57 662.73,814.89 665.92,816.24 669.11,817.63 672.30,819.04 675.49,820.49 678.68,821.97 681.87,823.47 685.06,825.01 688.25,826.57 691.44,828.17 694.63,829.79 697.82,831.43 701.01,833.10 704.20,834.80 707.39,836.52 710.58,838.26 713.77,840.03 716.96,841.81 720.15,843.62 723.34,845.44 726.53,847.29 729.72,849.15 732.91,851.02 736.10,852.92 739.29,854.82 742.48,856.75 745.67,858.68 748.86,860.62 752.05,862.58 755.24,864.54 758.43,866.52 761.62,868.50 764.81,870.49 768.00,872.48 771.19,874.48 774.38,876.48 777.57,878.49 780.76,880.49 783.95,882.50 787.14,884.51 790.33,886.52 793.52,888.52 796.71,890.53 799.90,892.53 803.09,894.52 806.28,896.51 809.47,898.50 812.66,900.48 815.85,902.45 819.04,904.41 822.23,906.37 825.42,908.31 828.61,910.25 831.80,912.18 834.99,914.09 838.18,915.99 841.37,917.89 844.56,919.76 847.75,921.63 850.94,923.48 854.13,925.32 857.32,927.14 860.51,928.95 863.70,930.74 866.89,932.52 870.08,934.29 873.27,936.03 876.46,937.76 879.65,939.47 882.84,941.17 886.03,942.85 889.22,944.51 892.41,946.16 895.60,947.78 898.79,949.39 901.98,950.98 905.17,952.56 908.36,954.11 911.55,955.65 914.74,957.17 917.93,958.67 921.12,960.15 924.31,961.61 927.50,963.06 930.69,964.48 933.88,965.89 937.07,967.28 940.26,968.66 943.45,970.01 946.64,971.35 949.83,972.66 953.02,973.96 956.21,975.25 959.40,976.51 962.59,977.76 965.78,978.99 968.97,980.20 972.16,981.39 975.35,982.57 978.54,983.72 981.73,984.87 984.92,985.99 988.11,987.10 991.30,988.19 994.49,989.26 997.68,990.32 1000.87,991.36 1004.06,992.38 1007.25,993.39 1010.44,994.38 1013.63,995.36 1016.82,996.32 1020.01,997.27 1023.20,998.20 1026.39,999.12 1029.58,1000.02 1032.77,1000.91 1035.96,1001.78 1039.15,1002.64 1042.34,1003.49 1045.53,1004.32 1048.72,1005.14 1051.91,1005.95 1055.10,1006.74 1058.29,1007.52 1061.48,1008.29 1064.67,1009.04 1067.86,1009.78 1071.05,1010.51 1074.24,1011.23 1077.43,1011.93 1080.62,1012.63 1083.81,1013.31 1087.00,1013.98 1090.19,1014.64 1093.38,1015.29 1096.57,1015.93 1099.76,1016.56 1102.95,1017.17 1106.14,1017.78 1109.33,1018.38 1112.52,1018.96 1115.71,1019.54 1118.90,1020.11 1122.09,1020.66 1125.28,1021.21 1128.47,1021.75 1131.66,1022.28 1134.85,1022.80 1138.04,1023.32 1141.23,1023.82 1144.42,1024.31 1147.61,1024.80 1150.80,1025.28 1153.99,1025.75 1157.18,1026.21 1160.37,1026.67 1163.56,1027.11 1166.75,1027.55 1169.94,1027.98 1173.13,1028.41 1176.32,1028.83 1179.51,1029.24 1182.70,1029.64 1185.89,1030.04 1189.08,1030.43 1192.27,1030.81 1195.46,1031.19 1198.65,1031.56 1201.84,1031.92 1205.03,1032.28 1208.22,1032.63 1211.41,1032.98 1214.60,1033.32 1217.79,1033.65 1220.98,1033.98 1224.17,1034.30 1227.36,1034.62 1230.55,1034.93 1233.74,1035.24 1236.93,1035.54 1240.12,1035.84 1243.31,1036.13 1246.50,1036.41 1249.69,1036.70 1252.88,1036.97 1256.07,1037.24 1259.26,1037.51 1262.45,1037.77 1265.64,1038.03 1268.83,1038.29 1272.02,1038.54 1275.21,1038.78 1278.40,1039.02 1281.59,1039.26 1284.78,1039.49 1287.97,1039.72 1291.16,1039.95 1294.35,1040.17 1297.54,1040.39 1300.73,1040.60 1303.92,1040.81 1307.10,1041.02 1310.29,1041.22 1313.48,1041.42 1316.67,1041.62 1319.86,1041.81 1323.05,1042.00 1326.24,1042.19 1329.43,1042.37 1332.62,1042.55 1335.81,1042.73 1339.00,1042.91 1342.19,1043.08 1345.38,1043.25 1348.57,1043.41 1351.76,1043.57 1354.95,1043.73 1358.14,1043.89 1361.33,1044.05 1364.52,1044.20 1367.71,1044.35 1370.90,1044.50 1374.09,1044.64 1377.28,1044.78 1380.47,1044.92 1383.66,1045.06 1386.85,1045.20 1390.04,1045.33 1393.23,1045.46 1396.42,1045.59 1399.61,1045.71 1402.80,1045.84 1405.99,1045.96 1409.18,1046.08 1412.37,1046.20 1415.56,1046.31 1418.75,1046.43 1421.94,1046.54 1425.13,1046.65 1428.32,1046.76 1431.51,1046.87 1434.70,1046.97" stroke="#fa5005" stroke-width="6.04"/>
<polyline points="158.72,1030.93 161.91,1030.65 165.10,1030.36 168.29,1030.06 171.48,1029.75 174.67,1029.44 177.86,1029.11 181.05,1028.78 184.24,1028.44 187.43,1028.09 190.62,1027.73 193.81,1027.36 197.00,1026.99 200.19,1026.60 203.38,1026.20 206.57,1025.80 209.76,1025.38 212.95,1024.96 216.14,1024.53 219.33,1024.10 222.52,1023.67 225.71,1023.23 228.90,1022.79 232.09,1022.34 235.28,1021.89 238.47,1021.44 241.66,1020.98 244.85,1020.52 248.04,1020.05 251.23,1019.59 254.42,1019.11 257.61,1018.64 260.80,1018.16 263.99,1017.68 267.18,1017.20 270.37,1016.72 273.56,1016.23 276.75,1015.74 279.94,1015.25 283.13,1014.76 286.32,1014.26 289.51,1013.77 292.70,1013.27 295.89,1012.77 299.08,1012.27 302.27,1011.77 305.46,1011.27 308.65,1010.77 311.84,1010.27 315.03,1009.77 318.22,1009.27 321.41,1008.77 324.60,1008.27 327.79,1007.78 330.98,1007.28 334.17,1006.79 337.36,1006.29 340.55,1005.80 343.74,1005.32 346.93,1004.83 350.12,1004.35 353.31,1003.87 356.50,1003.39 359.69,1002.92 362.88,1002.45 366.07,1001.99 369.26,1001.53 372.45,1001.07 375.64,1000.62 378.83,1000.18 382.02,999.73 385.21,999.30 388.40,998.87 391.59,998.45 394.78,998.03 397.97,997.62 401.16,997.21 404.35,996.81 407.54,996.42 410.73,996.04 413.92,995.66 417.11,995.29 420.30,994.93 423.49,994.58 426.68,994.23 429.87,993.89 433.06,993.56 436.25,993.24 439.44,992.93 442.63,992.62 445.82,992.33 449.01,992.04 452.20,991.76 455.39,991.49 458.58,991.23 461.77,990.98 464.96,990.74 468.15,990.50 471.34,990.28 474.53,990.06 477.72,989.86 480.91,989.66 484.10,989.47 487.29,989.29 490.48,989.12 493.67,988.96 496.86,988.81 500.05,988.67 503.24,988.54 506.43,988.42 509.62,988.31 512.80,988.20 515.99,988.11 519.18,988.02 522.37,987.95 525.56,987.88 528.75,987.83 531.94,987.78 535.13,987.74 538.32,987.71 541.51,987.69 544.70,987.68 547.89,987.68 551.08,987.69 554.27,987.71 557.46,987.73 560.65,987.77 563.84,987.82 567.03,987.87 570.22,987.94 573.41,988.01 576.60,988.09 579.79,988.19 582.98,988.29 586.17,988.40 589.36,988.52 592.55,988.65 595.74,988.79 598.93,988.94 602.12,989.10 605.31,989.27 608.50,989.44 611.69,989.63 614.88,989.82 618.07,990.03 621.26,990.24 624.45,990.47 627.64,990.70 630.83,990.94 634.02,991.19 637.21,991.45 640.40,991.72 643.59,992.00 646.78,992.28 649.97,992.58 653.16,992.88 656.35,993.19 659.54,993.51 662.73,993.84 665.92,994.18 669.11,994.52 672.30,994.88 675.49,995.24 678.68,995.60 681.87,995.98 685.06,996.36 688.25,996.75 691.44,997.15 694.63,997.55 697.82,997.96 701.01,998.38 704.20,998.80 707.39,999.23 710.58,999.67 713.77,1000.11 716.96,1000.55 720.15,1001.00 723.34,1001.46 726.53,1001.91 729.72,1002.38 732.91,1002.85 736.10,1003.32 739.29,1003.79 742.48,1004.27 745.67,1004.75 748.86,1005.24 752.05,1005.73 755.24,1006.22 758.43,1006.71 761.62,1007.20 764.81,1007.70 768.00,1008.19 771.19,1008.69 774.38,1009.19 777.57,1009.69 780.76,1010.19 783.95,1010.69 787.14,1011.19 790.33,1011.69 793.52,1012.19 796.71,1012.69 799.90,1013.19 803.09,1013.69 806.28,1014.18 809.47,1014.68 812.66,1015.17 815.85,1015.66 819.04,1016.15 822.23,1016.64 825.42,1017.13 828.61,1017.61 831.80,1018.09 834.99,1018.57 838.18,1019.04 841.37,1019.51 844.56,1019.98 847.75,1020.44 850.94,1020.91 854.13,1021.36 857.32,1021.82 860.51,1022.27 863.70,1022.72 866.89,1023.16 870.08,1023.60 873.27,1024.03 876.46,1024.47 879.65,1024.89 882.84,1025.32 886.03,1025.73 889.22,1026.15 892.41,1026.56 895.60,1026.96 898.79,1027.36 901.98,1027.76 905.17,1028.15 908.36,1028.54 911.55,1028.92 914.74,1029.30 917.93,1029.68 921.12,1030.05 924.31,1030.41 927.50,1030.77 930.69,1031.13 933.88,1031.48 937.07,1031.82 940.26,1032.17 943.45,1032.50 946.64,1032.84 949.83,1033.16 953.02,1033.49 956.21,1033.81 959.40,1034.12 962.59,1034.43 965.78,1034.74 968.97,1035.04 972.16,1035.34 975.35,1035.63 978.54,1035.92 981.73,1036.21 984.92,1036.49 988.11,1036.76 991.30,1037.03 994.49,1037.30 997.68,1037.56 1000.87,1037.82 1004.06,1038.08 1007.25,1038.33 1010.44,1038.58 1013.63,1038.82 1016.82,1039.06 1020.01,1039.30 1023.20,1039.53 1026.39,1039.76 1029.58,1039.98 1032.77,1040.20 1035.96,1040.42 1039.15,1040.64 1042.34,1040.85 1045.53,1041.06 1048.72,1041.26 1051.91,1041.46 1055.10,1041.66 1058.29,1041.85 1061.48,1042.04 1064.67,1042.23 1067.86,1042.42 1071.05,1042.60 1074.24,1042.78 1077.43,1042.95 1080.62,1043.13 1083.81,1043.30 1087.00,1043.46 1090.19,1043.63 1093.38,1043.79 1096.57,1043.95 1099.76,1044.10 1102.95,1044.26 1106.14,1044.41 1109.33,1044.56 1112.52,1044.70 1115.71,1044.85 1118.90,1044.99 1122.09,1045.13 1125.28,1045.27 1128.47,1045.40 1131.66,1045.53 1134.85,1045.66 1138.04,1045.79 1141.23,1045.91 1144.42,1046.04 1147.61,1046.16 1150.80,1046.28 1153.99,1046.40 1157.18,1046.51 1160.37,1046.62 1163.56,1046.74 1166.75,1046.85 1169.94,1046.95 1173.13,1047.06 1176.32,1047.16 1179.51,1047.27 1182.70,1047.37 1185.89,1047.46 1189.08,1047.56 1192.27,1047.66 1195.46,1047.75 1198.65,1047.84 1201.84,1047.93 1205.03,1048.02 1208.22,1048.11 1211.41,1048.20 1214.60,1048.28 1217.79,1048.36 1220.98,1048.45 1224.17,1048.53 1227.36,1048.61 1230.55,1048.68 1233.74,1048.76 1236.93,1048.84 1240.12,1048.91 1243.31,1048.98 1246.50,1049.05 1249.69,1049.12 1252.88,1049.19 1256.07,1049.26 1259.26,1049.33 1262.45,1049.39 1265.64,1049.46 1268.83,1049.52 1272.02,1049.58 1275.21,1049.64 1278.40,1049.70 1281.59,1049.76 1284.78,1049.82 1287.97,1049.88 1291.16,1049.93 1294.35,1049.99 1297.54,1050.04 1300.73,1050.10 1303.92,1050.15 1307.10,1050.20 1310.29,1050.25 1313.48,1050.30 1316.67,1050.35 1319.86,1050.40 1323.05,1050.45 1326.24,1050.49 1329.43,1050.54 1332.62,1050.58 1335.81,1050.63 1339.00,1050.67 1342.19,1050.71 1345.38,1050.76 1348.57,1050.80 1351.76,1050.84 1354.95,1050.88 1358.14,1050.92 1361.33,1050.96 1364.52,1050.99 1367.71,1051.03 1370.90,1051.07 1374.09,1051.10 1377.28,1051.14 1380.47,1051.17 1383.66,1051.21 1386.85,1051.24 1390.04,1051.28 1393.23,1051.31 1396.42,1051.34 1399.61,1051.37 1402.80,1051.40 1405.99,1051.43 1409.18,1051.46 1412.37,1051.49 1415.56,1051.52 1418.75,1051.55 1421.94,1051.58 1425.13,1051.61 1428.32,1051.63 1431.51,1051.66 1434.70,1051.68" stroke="#ffb000" stroke-opacity="0.4" stroke-width="9.40"/>
<polyline points="158.72,1030.93 161.91,1030.65 165.10,1030.36 168.29,1030.06 171.48,1029.75 174.67,1029.44 177.86,1029.11 181.05,1028.78 184.24,1028.44 187.43,1028.09 190.62,1027.73 193.81,1027.36 197.00,1026.99 200.19,1026.60 203.38,1026.20 206.57,1025.80 209.76,1025.38 212.95,1024.96 216.14,1024.53 219.33,1024.10 222.52,1023.67 225.71,1023.23 228.90,1022.79 232.09,1022.34 235.28,1021.89 238.47,1021.44 241.66,1020.98 244.85,1020.52 248.04,1020.05 251.23,1019.59 254.42,1019.11 257.61,1018.64 260.80,1018.16 263.99,1017.68 267.18,1017.20 270.37,1016.72 273.56,1016.23 276.75,1015.74 279.94,1015.25 283.13,1014.76 286.32,1014.26 289.51,1013.77 292.70,1013.27 295.89,1012.77 299.08,1012.27 302.27,1011.77 305.46,1011.27 308.65,1010.77 311.84,1010.27 315.03,1009.77 318.22,1009.27 321.41,1008.77 324.60,1008.27 327.79,1007.78 330.98,1007.28 334.17,1006.79 337.36,1006.29 340.55,1005.80 343.74,1005.32 346.93,1004.83 350.12,1004.35 353.31,1003.87 356.50,1003.39 359.69,1002.92 362.88,1002.45 366.07,1001.99 369.26,1001.53 372.45,1001.07 375.64,1000.62 378.83,1000.18 382.02,999.73 385.21,999.30 388.40,998.87 391.59,998.45 394.78,998.03 397.97,997.62 401.16,997.21 404.35,996.81 407.54,996.42 410.73,996.04 413.92,995.66 417.11,995.29 420.30,994.93 423.49,994.58 426.68,994.23 429.87,993.89 433.06,993.56 436.25,993.24 439.44,992.93 442.63,992.62 445.82,992.33 449.01,992.04 452.20,991.76 455.39,991.49 458.58,991.23 461.77,990.98 464.96,990.74 468.15,990.50 471.34,990.28 474.53,990.06 477.72,989.86 480.91,989.66 484.10,989.47 487.29,989.29 490.48,989.12 493.67,988.96 496.86,988.81 500.05,988.67 503.24,988.54 506.43,988.42 509.62,988.31 512.80,988.20 515.99,988.11 519.18,988.02 522.37,987.95 525.56,987.88 528.75,987.83 531.94,987.78 535.13,987.74 538.32,987.71 541.51,987.69 544.70,987.68 547.89,987.68 551.08,987.69 554.27,987.71 557.46,987.73 560.65,987.77 563.84,987.82 567.03,987.87 570.22,987.94 573.41,988.01 576.60,988.09 579.79,988.19 582.98,988.29 586.17,988.40 589.36,988.52 592.55,988.65 595.74,988.79 598.93,988.94 602.12,989.10 605.31,989.27 608.50,989.44 611.69,989.63 614.88,989.82 618.07,990.03 621.26,990.24 624.45,990.47 627.64,990.70 630.83,990.94 634.02,991.19 637.21,991.45 640.40,991.72 643.59,992.00 646.78,992.28 649.97,992.58 653.16,992.88 656.35,993.19 659.54,993.51 662.73,993.84 665.92,994.18 669.11,994.52 672.30,994.88 675.49,995.24 678.68,995.60 681.87,995.98 685.06,996.36 688.25,996.75 691.44,997.15 694.63,997.55 697.82,997.96 701.01,998.38 704.20,998.80 707.39,999.23 710.58,999.67 713.77,1000.11 716.96,1000.55 720.15,1001.00 723.34,1001.46 726.53,1001.91 729.72,1002.38 732.91,1002.85 736.10,1003.32 739.29,1003.79 742.48,1004.27 745.67,1004.75 748.86,1005.24 752.05,1005.73 755.24,1006.22 758.43,1006.71 761.62,1007.20 764.81,1007.70 768.00,1008.19 771.19,1008.69 774.38,1009.19 777.57,1009.69 780.76,1010.19 783.95,1010.69 787.14,1011.19 790.33,1011.69 793.52,1012.19 796.71,1012.69 799.90,1013.19 803.09,1013.69 806.28,1014.18 809.47,1014.68 812.66,1015.17 815.85,1015.66 819.04,1016.15 822.23,1016.64 825.42,1017.13 828.61,1017.61 831.80,1018.09 834.99,1018.57 838.18,1019.04 841.37,1019.51 844.56,1019.98 847.75,1020.44 850.94,1020.91 854.13,1021.36 857.32,1021.82 860.51,1022.27 863.70,1022.72 866.89,1023.16 870.08,1023.60 873.27,1024.03 876.46,1024.47 879.65,1024.89 882.84,1025.32 886.03,1025.73 889.22,1026.15 892.41,1026.56 895.60,1026.96 898.79,1027.36 901.98,1027.76 905.17,1028.15 908.36,1028.54 911.55,1028.92 914.74,1029.30 917.93,1029.68 921.12,1030.05 924.31,1030.41 927.50,1030.77 930.69,1031.13 933.88,1031.48 937.07,1031.82 940.26,1032.17 943.45,1032.50 946.64,1032.84 949.83,1033.16 953.02,1033.49 956.21,1033.81 959.40,1034.12 962.59,1034.43 965.78,1034.74 968.97,1035.04 972.16,1035.34 975.35,1035.63 978.54,1035.92 981.73,1036.21 984.92,1036.49 988.11,1036.76 991.30,1037.03 994.49,1037.30 997.68,1037.56 1000.87,1037.82 1004.06,1038.08 1007.25,1038.33 1010.44,1038.58 1013.63,1038.82 1016.82,1039.06 1020.01,1039.30 1023.20,1039.53 1026.39,1039.76 1029.58,1039.98 1032.77,1040.20 1035.96,1040.42 1039.15,1040.64 1042.34,1040.85 1045.53,1041.06 1048.72,1041.26 1051.91,1041.46 1055.10,1041.66 1058.29,1041.85 1061.48,1042.04 1064.67,1042.23 1067.86,1042.42 1071.05,1042.60 1074.24,1042.78 1077.43,1042.95 1080.62,1043.13 1083.81,1043.30 1087.00,1043.46 1090.19,1043.63 1093.38,1043.79 1096.57,1043.95 1099.76,1044.10 1102.95,1044.26 1106.14,1044.41 1109.33,1044.56 1112.52,1044.70 1115.71,1044.85 1118.90,1044.99 1122.09,1045.13 1125.28,1045.27 1128.47,1045.40 1131.66,1045.53 1134.85,1045.66 1138.04,1045.79 1141.23,1045.91 1144.42,1046.04 1147.61,1046.16 1150.80,1046.28 1153.99,1046.40 1157.18,1046.51 1160.37,1046.62 1163.56,1046.74 1166.75,1046.85 1169.94,1046.95 1173.13,1047.06 1176.32,1047.16 1179.51,1047.27 1182.70,1047.37 1185.89,1047.46 1189.08,1047.56 1192.27,1047.66 1195.46,1047.75 1198.65,1047.84 1201.84,1047.93 1205.03,1048.02 1208.22,1048.11 1211.41,1048.20 1214.60,1048.28 1217.79,1048.36 1220.98,1048.45 1224.17,1048.53 1227.36,1048.61 1230.55,1048.68 1233.74,1048.76 1236.93,1048.84 1240.12,1048.91 1243.31,1048.98 1246.50,1049.05 1249.69,1049.12 1252.88,1049.19 1256.07,1049.26 1259.26,1049.33 1262.45,1049.39 1265.64,1049.46 1268.83,1049.52 1272.02,1049.58 1275.21,1049.64 1278.40,1049.70 1281.59,1049.76 1284.78,1049.82 1287.97,1049.88 1291.16,1049.93 1294.35,1049.99 1297.54,1050.04 1300.73,1050.10 1303.92,1050.15 1307.10,1050.20 1310.29,1050.25 1313.48,1050.30 1316.67,1050.35 1319.86,1050.40 1323.05,1050.45 1326.24,1050.49 1329.43,1050.54 1332.62,1050.58 1335.81,1050.63 1339.00,1050.67 1342.19,1050.71 1345.38,1050.76 1348.57,1050.80 1351.76,1050.84 1354.95,1050.88 1358.14,1050.92 1361.33,1050.96 1364.52,1050.99 1367.71,1051.03 1370.90,1051.07 1374.09,1051.10 1377.28,1051.14 1380.47,1051.17 1383.66,1051.21 1386.85,1051.24 1390.04,1051.28 1393.23,1051.31 1396.42,1051.34 1399.61,1051.37 1402.80,1051.40 1405.99,1051.43 1409.18,1051.46 1412.37,1051.49 1415.56,1051.52 1418.75,1051.55 1421.94,1051.58 1425.13,1051.61 1428.32,1051.63 1431.51,1051.66 1434.70,1051.68" stroke="#ffb000" stroke-width="6.04"/>
<polyline points="158.72,1044.82 161.91,1044.71 165.10,1044.60 168.29,1044.49 171.48,1044.38 174.67,1044.26 177.86,1044.13 181.05,1044.01 184.24,1043.88 187.43,1043.75 190.62,1043.61 193.81,1043.47 197.00,1043.33 200.19,1043.19 203.38,1043.04 206.57,1042.88 209.76,1042.73 212.95,1042.57 216.14,1042.40 219.33,1042.24 222.52,1042.08 225.71,1041.91 228.90,1041.75 232.09,1041.58 235.28,1041.41 238.47,1041.24 241.66,1041.06 244.85,1040.89 248.04,1040.71 251.23,1040.54 254.42,1040.36 257.61,1040.18 260.80,1040.00 263.99,1039.82 267.18,1039.64 270.37,1039.45 273.56,1039.27 276.75,1039.08 279.94,1038.90 283.13,1038.71 286.32,1038.53 289.51,1038.34 292.70,1038.15 295.89,1037.96 299.08,1037.77 302.27,1037.59 305.46,1037.40 308.65,1037.21 311.84,1037.02 315.03,1036.83 318.22,1036.64 321.41,1036.45 324.60,1036.26 327.79,1036.08 330.98,1035.89 334.17,1035.70 337.36,1035.52 340.55,1035.33 343.74,1035.15 346.93,1034.96 350.12,1034.78 353.31,1034.60 356.50,1034.42 359.69,1034.24 362.88,1034.07 366.07,1033.89 369.26,1033.72 372.45,1033.54 375.64,1033.37 378.83,1033.21 382.02,1033.04 385.21,1032.88 388.40,1032.71 391.59,1032.55 394.78,1032.40 397.97,1032.24 401.16,1032.09 404.35,1031.94 407.54,1031.79 410.73,1031.64 413.92,1031.50 417.11,1031.36 420.30,1031.23 423.49,1031.09 426.68,1030.96 429.87,1030.83 433.06,1030.71 436.25,1030.59 439.44,1030.47 442.63,1030.35 445.82,1030.24 449.01,1030.13 452.20,1030.03 455.39,1029.93 458.58,1029.83 461.77,1029.73 464.96,1029.64 468.15,1029.55 471.34,1029.47 474.53,1029.39 477.72,1029.31 480.91,1029.23 484.10,1029.16 487.29,1029.10 490.48,1029.03 493.67,1028.97 496.86,1028.91 500.05,1028.86 503.24,1028.81 506.43,1028.77 509.62,1028.72 512.80,1028.68 515.99,1028.65 519.18,1028.62 522.37,1028.59 525.56,1028.56 528.75,1028.54 531.94,1028.52 535.13,1028.51 538.32,1028.50 541.51,1028.49 544.70,1028.49 547.89,1028.49 551.08,1028.49 554.27,1028.50 557.46,1028.51 560.65,1028.52 563.84,1028.54 567.03,1028.56 570.22,1028.58 573.41,1028.61 576.60,1028.64 579.79,1028.68 582.98,1028.72 586.17,1028.76 589.36,1028.80 592.55,1028.85 595.74,1028.91 598.93,1028.96 602.12,1029.02 605.31,1029.09 608.50,1029.15 611.69,1029.22 614.88,1029.30 618.07,1029.37 621.26,1029.45 624.45,1029.54 627.64,1029.63 630.83,1029.72 634.02,1029.81 637.21,1029.91 640.40,1030.01 643.59,1030.12 646.78,1030.22 649.97,1030.34 653.16,1030.45 656.35,1030.57 659.54,1030.69 662.73,1030.81 665.92,1030.94 669.11,1031.07 672.30,1031.20 675.49,1031.34 678.68,1031.48 681.87,1031.62 685.06,1031.77 688.25,1031.91 691.44,1032.06 694.63,1032.22 697.82,1032.37 701.01,1032.53 704.20,1032.69 707.39,1032.85 710.58,1033.01 713.77,1033.18 716.96,1033.35 720.15,1033.52 723.34,1033.69 726.53,1033.86 729.72,1034.04 732.91,1034.21 736.10,1034.39 739.29,1034.57 742.48,1034.75 745.67,1034.94 748.86,1035.12 752.05,1035.30 755.24,1035.49 758.43,1035.67 761.62,1035.86 764.81,1036.05 768.00,1036.23 771.19,1036.42 774.38,1036.61 777.57,1036.80 780.76,1036.99 783.95,1037.18 787.14,1037.37 790.33,1037.56 793.52,1037.74 796.71,1037.93 799.90,1038.12 803.09,1038.31 806.28,1038.50 809.47,1038.68 812.66,1038.87 815.85,1039.06 819.04,1039.24 822.23,1039.42 825.42,1039.61 828.61,1039.79 831.80,1039.97 834.99,1040.15 838.18,1040.33 841.37,1040.51 844.56,1040.69 847.75,1040.86 850.94,1041.04 854.13,1041.21 857.32,1041.38 860.51,1041.55 863.70,1041.72 866.89,1041.89 870.08,1042.05 873.27,1042.22 876.46,1042.38 879.65,1042.54 882.84,1042.70 886.03,1042.86 889.22,1043.01 892.41,1043.17 895.60,1043.32 898.79,1043.47 901.98,1043.62 905.17,1043.77 908.36,1043.92 911.55,1044.06 914.74,1044.21 917.93,1044.35 921.12,1044.49 924.31,1044.62 927.50,1044.76 930.69,1044.89 933.88,1045.03 937.07,1045.16 940.26,1045.29 943.45,1045.41 946.64,1045.54 949.83,1045.66 953.02,1045.79 956.21,1045.91 959.40,1046.03 962.59,1046.14 965.78,1046.26 968.97,1046.37 972.16,1046.49 975.35,1046.60 978.54,1046.71 981.73,1046.81 984.92,1046.92 988.11,1047.02 991.30,1047.13 994.49,1047.23 997.68,1047.33 1000.87,1047.42 1004.06,1047.52 1007.25,1047.62 1010.44,1047.71 1013.63,1047.80 1016.82,1047.89 1020.01,1047.98 1023.20,1048.07 1026.39,1048.15 1029.58,1048.24 1032.77,1048.32 1035.96,1048.41 1039.15,1048.49 1042.34,1048.57 1045.53,1048.64 1048.72,1048.72 1051.91,1048.80 1055.10,1048.87 1058.29,1048.95 1061.48,1049.02 1064.67,1049.09 1067.86,1049.16 1071.05,1049.23 1074.24,1049.29 1077.43,1049.36 1080.62,1049.43 1083.81,1049.49 1087.00,1049.55 1090.19,1049.62 1093.38,1049.68 1096.57,1049.74 1099.76,1049.80 1102.95,1049.85 1106.14,1049.91 1109.33,1049.97 1112.52,1050.02 1115.71,1050.08 1118.90,1050.13 1122.09,1050.18 1125.28,1050.23 1128.47,1050.29 1131.66,1050.34 1134.85,1050.38 1138.04,1050.43 1141.23,1050.48 1144.42,1050.53 1147.61,1050.57 1150.80,1050.62 1153.99,1050.66 1157.18,1050.70 1160.37,1050.75 1163.56,1050.79 1166.75,1050.83 1169.94,1050.87 1173.13,1050.91 1176.32,1050.95 1179.51,1050.99 1182.70,1051.03 1185.89,1051.07 1189.08,1051.10 1192.27,1051.14 1195.46,1051.17 1198.65,1051.21 1201.84,1051.24 1205.03,1051.28 1208.22,1051.31 1211.41,1051.34 1214.60,1051.37 1217.79,1051.41 1220.98,1051.44 1224.17,1051.47 1227.36,1051.50 1230.55,1051.53 1233.74,1051.55 1236.93,1051.58 1240.12,1051.61 1243.31,1051.64 1246.50,1051.67 1249.69,1051.69 1252.88,1051.72 1256.07,1051.74 1259.26,1051.77 1262.45,1051.79 1265.64,1051.82 1268.83,1051.84 1272.02,1051.87 1275.21,1051.89 1278.40,1051.91 1281.59,1051.93 1284.78,1051.96 1287.97,1051.98 1291.16,1052.00 1294.35,1052.02 1297.54,1052.04 1300.73,1052.06 1303.92,1052.08 1307.10,1052.10 1310.29,1052.12 1313.48,1052.14 1316.67,1052.16 1319.86,1052.17 1323.05,1052.19 1326.24,1052.21 1329.43,1052.23 1332.62,1052.24 1335.81,1052.26 1339.00,1052.28 1342.19,1052.29 1345.38,1052.31 1348.57,1052.32 1351.76,1052.34 1354.95,1052.35 1358.14,1052.37 1361.33,1052.38 1364.52,1052.40 1367.71,1052.41 1370.90,1052.43 1374.09,1052.44 1377.28,1052.45 1380.47,1052.47 1383.66,1052.48 1386.85,1052.49 1390.04,1052.50 1393.23,1052.52 1396.42,1052.53 1399.61,1052.54 1402.80,1052.55 1405.99,1052.56 1409.18,1052.58 1412.37,1052.59 1415.56,1052.60 1418.75,1052.61 1421.94,1052.62 1425.13,1052.63 1428.32,1052.64 1431.51,1052.65 1434.70,1052.66" stroke="#922a94" stroke-opacity="0.4" stroke-width="9.40"/>
<polyline points="158.72,1044.82 161.91,1044.71 165.10,1044.60 168.29,1044.49 171.48,1044.38 174.67,1044.26 177.86,1044.13 181.05,1044.01 184.24,1043.88 187.43,1043.75 190.62,1043.61 193.81,1043.47 197.00,1043.33 200.19,1043.19 203.38,1043.04 206.57,1042.88 209.76,1042.73 212.95,1042.57 216.14,1042.40 219.33,1042.24 222.52,1042.08 225.71,1041.91 228.90,1041.75 232.09,1041.58 235.28,1041.41 238.47,1041.24 241.66,1041.06 244.85,1040.89 248.04,1040.71 251.23,1040.54 254.42,1040.36 257.61,1040.18 260.80,1040.00 263.99,1039.82 267.18,1039.64 270.37,1039.45 273.56,1039.27 276.75,1039.08 279.94,1038.90 283.13,1038.71 286.32,1038.53 289.51,1038.34 292.70,1038.15 295.89,1037.96 299.08,1037.77 302.27,1037.59 305.46,1037.40 308.65,1037.21 311.84,1037.02 315.03,1036.83 318.22,1036.64 321.41,1036.45 324.60,1036.26 327.79,1036.08 330.98,1035.89 334.17,1035.70 337.36,1035.52 340.55,1035.33 343.74,1035.15 346.93,1034.96 350.12,1034.78 353.31,1034.60 356.50,1034.42 359.69,1034.24 362.88,1034.07 366.07,1033.89 369.26,1033.72 372.45,1033.54 375.64,1033.37 378.83,1033.21 382.02,1033.04 385.21,1032.88 388.40,1032.71 391.59,1032.55 394.78,1032.40 397.97,1032.24 401.16,1032.09 404.35,1031.94 407.54,1031.79 410.73,1031.64 413.92,1031.50 417.11,1031.36 420.30,1031.23 423.49,1031.09 426.68,1030.96 429.87,1030.83 433.06,1030.71 436.25,1030.59 439.44,1030.47 442.63,1030.35 445.82,1030.24 449.01,1030.13 452.20,1030.03 455.39,1029.93 458.58,1029.83 461.77,1029.73 464.96,1029.64 468.15,1029.55 471.34,1029.47 474.53,1029.39 477.72,1029.31 480.91,1029.23 484.10,1029.16 487.29,1029.10 490.48,1029.03 493.67,1028.97 496.86,1028.91 500.05,1028.86 503.24,1028.81 506.43,1028.77 509.62,1028.72 512.80,1028.68 515.99,1028.65 519.18,1028.62 522.37,1028.59 525.56,1028.56 528.75,1028.54 531.94,1028.52 535.13,1028.51 538.32,1028.50 541.51,1028.49 544.70,1028.49 547.89,1028.49 551.08,1028.49 554.27,1028.50 557.46,1028.51 560.65,1028.52 563.84,1028.54 567.03,1028.56 570.22,1028.58 573.41,1028.61 576.60,1028.64 579.79,1028.68 582.98,1028.72 586.17,1028.76 589.36,1028.80 592.55,1028.85 595.74,1028.91 598.93,1028.96 602.12,1029.02 605.31,1029.09 608.50,1029.15 611.69,1029.22 614.88,1029.30 618.07,1029.37 621.26,1029.45 624.45,1029.54 627.64,1029.63 630.83,1029.72 634.02,1029.81 637.21,1029.91 640.40,1030.01 643.59,1030.12 646.78,1030.22 649.97,1030.34 653.16,1030.45 656.35,1030.57 659.54,1030.69 662.73,1030.81 665.92,1030.94 669.11,1031.07 672.30,1031.20 675.49,1031.34 678.68,1031.48 681.87,1031.62 685.06,1031.77 688.25,1031.91 691.44,1032.06 694.63,1032.22 697.82,1032.37 701.01,1032.53 704.20,1032.69 707.39,1032.85 710.58,1033.01 713.77,1033.18 716.96,1033.35 720.15,1033.52 723.34,1033.69 726.53,1033.86 729.72,1034.04 732.91,1034.21 736.10,1034.39 739.29,1034.57 742.48,1034.75 745.67,1034.94 748.86,1035.12 752.05,1035.30 755.24,1035.49 758.43,1035.67 761.62,1035.86 764.81,1036.05 768.00,1036.23 771.19,1036.42 774.38,1036.61 777.57,1036.80 780.76,1036.99 783.95,1037.18 787.14,1037.37 790.33,1037.56 793.52,1037.74 796.71,1037.93 799.90,1038.12 803.09,1038.31 806.28,1038.50 809.47,1038.68 812.66,1038.87 815.85,1039.06 819.04,1039.24 822.23,1039.42 825.42,1039.61 828.61,1039.79 831.80,1039.97 834.99,1040.15 838.18,1040.33 841.37,1040.51 844.56,1040.69 847.75,1040.86 850.94,1041.04 854.13,1041.21 857.32,1041.38 860.51,1041.55 863.70,1041.72 866.89,1041.89 870.08,1042.05 873.27,1042.22 876.46,1042.38 879.65,1042.54 882.84,1042.70 886.03,1042.86 889.22,1043.01 892.41,1043.17 895.60,1043.32 898.79,1043.47 901.98,1043.62 905.17,1043.77 908.36,1043.92 911.55,1044.06 914.74,1044.21 917.93,1044.35 921.12,1044.49 924.31,1044.62 927.50,1044.76 930.69,1044.89 933.88,1045.03 937.07,1045.16 940.26,1045.29 943.45,1045.41 946.64,1045.54 949.83,1045.66 953.02,1045.79 956.21,1045.91 959.40,1046.03 962.59,1046.14 965.78,1046.26 968.97,1046.37 972.16,1046.49 975.35,1046.60 978.54,1046.71 981.73,1046.81 984.92,1046.92 988.11,1047.02 991.30,1047.13 994.49,1047.23 997.68,1047.33 1000.87,1047.42 1004.06,1047.52 1007.25,1047.62 1010.44,1047.71 1013.63,1047.80 1016.82,1047.89 1020.01,1047.98 1023.20,1048.07 1026.39,1048.15 1029.58,1048.24 1032.77,1048.32 1035.96,1048.41 1039.15,1048.49 1042.34,1048.57 1045.53,1048.64 1048.72,1048.72 1051.91,1048.80 1055.10,1048.87 1058.29,1048.95 1061.48,1049.02 1064.67,1049.09 1067.86,1049.16 1071.05,1049.23 1074.24,1049.29 1077.43,1049.36 1080.62,1049.43 1083.81,1049.49 1087.00,1049.55 1090.19,1049.62 1093.38,1049.68 1096.57,1049.74 1099.76,1049.80 1102.95,1049.85 1106.14,1049.91 1109.33,1049.97 1112.52,1050.02 1115.71,1050.08 1118.90,1050.13 1122.09,1050.18 1125.28,1050.23 1128.47,1050.29 1131.66,1050.34 1134.85,1050.38 1138.04,1050.43 1141.23,1050.48 1144.42,1050.53 1147.61,1050.57 1150.80,1050.62 1153.99,1050.66 1157.18,1050.70 1160.37,1050.75 1163.56,1050.79 1166.75,1050.83 1169.94,1050.87 1173.13,1050.91 1176.32,1050.95 1179.51,1050.99 1182.70,1051.03 1185.89,1051.07 1189.08,1051.10 1192.27,1051.14 1195.46,1051.17 1198.65,1051.21 1201.84,1051.24 1205.03,1051.28 1208.22,1051.31 1211.41,1051.34 1214.60,1051.37 1217.79,1051.41 1220.98,1051.44 1224.17,1051.47 1227.36,1051.50 1230.55,1051.53 1233.74,1051.55 1236.93,1051.58 1240.12,1051.61 1243.31,1051.64 1246.50,1051.67 1249.69,1051.69 1252.88,1051.72 1256.07,1051.74 1259.26,1051.77 1262.45,1051.79 1265.64,1051.82 1268.83,1051.84 1272.02,1051.87 1275.21,1051.89 1278.40,1051.91 1281.59,1051.93 1284.78,1051.96 1287.97,1051.98 1291.16,1052.00 1294.35,1052.02 1297.54,1052.04 1300.73,1052.06 1303.92,1052.08 1307.10,1052.10 1310.29,1052.12 1313.48,1052.14 1316.67,1052.16 1319.86,1052.17 1323.05,1052.19 1326.24,1052.21 1329.43,1052.23 1332.62,1052.24 1335.81,1052.26 1339.00,1052.28 1342.19,1052.29 1345.38,1052.31 1348.57,1052.32 1351.76,1052.34 1354.95,1052.35 1358.14,1052.37 1361.33,1052.38 1364.52,1052.40 1367.71,1052.41 1370.90,1052.43 1374.09,1052.44 1377.28,1052.45 1380.47,1052.47 1383.66,1052.48 1386.85,1052.49 1390.04,1052.50 1393.23,1052.52 1396.42,1052.53 1399.61,1052.54 1402.80,1052.55 1405.99,1052.56 1409.18,1052.58 1412.37,1052.59 1415.56,1052.60 1418.75,1052.61 1421.94,1052.62 1425.13,1052.63 1428.32,1052.64 1431.51,1052.65 1434.70,1052.66" stroke="#922a94" stroke-width="6.04"/>
</g></g>
<rect x="1526.0" y="92.0" width="547.5" height="386.8" fill="#ffffff" stroke="none"/>
<g stroke="#1c1c1c">
<line x1="1523.925" y1="92.0" x2="2075.575" y2="92.0" stroke-width="2.9"/>
<line x1="1523.925" y1="478.8" x2="2075.575" y2="478.8" stroke-width="2.9"/>
<line x1="1526.0" y1="92.0" x2="1526.0" y2="478.8" stroke-width="4.15"/>
<line x1="2073.5" y1="92.0" x2="2073.5" y2="478.8" stroke-width="4.15"/>
</g>
<line x1="1540.4" y1="141.7" x2="1717.7" y2="141.7" stroke="#0072c3" stroke-opacity="0.4" stroke-width="9.6"/>
<line x1="1541.4" y1="141.7" x2="1716.7" y2="141.7" stroke="#0072c3" stroke-width="6.6"/>
<line x1="1540.4" y1="238.4" x2="1717.7" y2="238.4" stroke="#fa5005" stroke-opacity="0.4" stroke-width="9.6"/>
<line x1="1541.4" y1="238.4" x2="1716.7" y2="238.4" stroke="#fa5005" stroke-width="6.6"/>
<line x1="1540.4" y1="332.3" x2="1717.7" y2="332.3" stroke="#ffb000" stroke-opacity="0.4" stroke-width="9.6"/>
<line x1="1541.4" y1="332.3" x2="1716.7" y2="332.3" stroke="#ffb000" stroke-width="6.6"/>
<line x1="1540.4" y1="429.3" x2="1717.7" y2="429.3" stroke="#922a94" stroke-opacity="0.4" stroke-width="9.6"/>
<line x1="1541.4" y1="429.3" x2="1716.7" y2="429.3" stroke="#922a94" stroke-width="6.6"/>
<g id="ticklabels">
<text transform="translate(194.60,75.70) scale(1.4800,1)" font-family="'Liberation Sans', sans-serif" font-style="normal" font-size="39.00" fill="#262626">2</text>
<text transform="translate(146.46,175.11) scale(1.4800,1)" font-family="'Liberation Sans', sans-serif" font-style="normal" font-size="39.00" fill="#262626">1.8</text>
<text transform="translate(146.46,274.52) scale(1.4800,1)" font-family="'Liberation Sans', sans-serif" font-style="normal" font-size="39.00" fill="#262626">1.6</text>
<text transform="translate(146.46,373.93) scale(1.4800,1)" font-family="'Liberation Sans', sans-serif" font-style="normal" font-size="39.00" fill="#262626">1.4</text>
<text transform="translate(146.46,473.34) scale(1.4800,1)" font-family="'Liberation Sans', sans-serif" font-style="normal" font-size="39.00" fill="#262626">1.2</text>
<text transform="translate(194.60,572.75) scale(1.4800,1)" font-family="'Liberation Sans', sans-serif" font-style="normal" font-size="39.00" fill="#262626">1</text>
<text transform="translate(146.46,672.16) scale(1.4800,1)" font-family="'Liberation Sans', sans-serif" font-style="normal" font-size="39.00" fill="#262626">0.8</text>
<text transform="translate(146.46,771.57) scale(1.4800,1)" font-family="'Liberation Sans', sans-serif" font-style="normal" font-size="39.00" fill="#262626">0.6</text>
<text transform="translate(146.46,870.98) scale(1.4800,1)" font-family="'Liberation Sans', sans-serif" font-style="normal" font-size="39.00" fill="#262626">0.4</text>
<text transform="translate(146.46,970.39) scale(1.4800,1)" font-family="'Liberation Sans', sans-serif" font-style="normal" font-size="39.00" fill="#262626">0.2</text>
<text transform="translate(194.60,1069.80) scale(1.4800,1)" font-family="'Liberation Sans', sans-serif" font-style="normal" font-size="39.00" fill="#262626">0</text>
<text transform="scale(1.4800,1)" font-family="'Liberation Sans', sans-serif" font-style="normal" font-size="39.00" fill="#262626"><tspan x="131.05" y="1116.30">10</tspan><tspan x="174.33" y="1099.00" font-size="31.50" textLength="29.12" lengthAdjust="spacingAndGlyphs">−1</tspan></text>
<text transform="scale(1.4800,1)" font-family="'Liberation Sans', sans-serif" font-style="normal" font-size="39.00" fill="#262626"><tspan x="559.70" y="1116.30">10</tspan><tspan x="602.89" y="1098.60" font-size="31.50" textLength="19.53" lengthAdjust="spacingAndGlyphs">0</tspan></text>
<text transform="scale(1.4800,1)" font-family="'Liberation Sans', sans-serif" font-style="normal" font-size="39.00" fill="#262626"><tspan x="979.20" y="1116.30">10</tspan><tspan x="1023.14" y="1098.60" font-size="31.50" textLength="19.53" lengthAdjust="spacingAndGlyphs">1</tspan></text>
<text transform="scale(1.4800,1)" font-family="'Liberation Sans', sans-serif" font-style="normal" font-size="39.00" fill="#262626"><tspan x="1401.80" y="1116.30">10</tspan><tspan x="1445.05" y="1098.60" font-size="31.50" textLength="19.53" lengthAdjust="spacingAndGlyphs">2</tspan></text>
</g>
<g id="axislabels">
<text transform="scale(1.5781,1)" font-family="'Liberation Serif', serif" font-style="normal" font-size="48.92" fill="#262626"><tspan x="494.24" y="1174.80">Modulation</tspan> <tspan x="732.04" y="1174.80" textLength="206.33" lengthAdjust="spacingAndGlyphs">frequency,</tspan> <tspan x="947.99" y="1174.80" textLength="62.44" lengthAdjust="spacingAndGlyphs">Hz</tspan></text>
<text transform="translate(95.9,831.34) rotate(-90) scale(1.2871,1.8115)" font-family="'Liberation Serif', serif" font-size="40.00" fill="#262626">Measure Sensitivity, V/rad</text>
</g>
<g id="legendtext">
<text transform="scale(1.4500,1)" font-family="'Liberation Serif', serif" font-style="italic" font-size="48.92" fill="#1a1a1a"><tspan x="1190.29" y="146.80" textLength="29.99" lengthAdjust="spacingAndGlyphs">T</tspan><tspan x="1219.93" y="170.42" font-size="37.92" textLength="16.18" lengthAdjust="spacingAndGlyphs">s</tspan> <tspan x="1240.48" y="145.82" font-size="44.00" textLength="35.63" lengthAdjust="spacingAndGlyphs">=</tspan> <tspan x="1282.83" y="146.62" font-size="48.30" textLength="71.68" lengthAdjust="spacingAndGlyphs">200</tspan> <tspan x="1366.22" y="146.62" font-size="48.30" textLength="52.21" lengthAdjust="spacingAndGlyphs">°C</tspan></text>
<text transform="scale(1.4500,1)" font-family="'Liberation Serif', serif" font-style="italic" font-size="47.85" fill="#1a1a1a"><tspan x="1190.29" y="240.30" textLength="29.99" lengthAdjust="spacingAndGlyphs">T</tspan><tspan x="1219.93" y="263.92" font-size="37.92" textLength="16.18" lengthAdjust="spacingAndGlyphs">s</tspan> <tspan x="1240.48" y="239.32" font-size="44.00" textLength="35.63" lengthAdjust="spacingAndGlyphs">=</tspan> <tspan x="1281.11" y="240.13" font-size="47.26" textLength="73.41" lengthAdjust="spacingAndGlyphs">100</tspan> <tspan x="1366.22" y="240.13" font-size="47.26" textLength="52.21" lengthAdjust="spacingAndGlyphs">°C</tspan></text>
<text transform="scale(1.4500,1)" font-family="'Liberation Serif', serif" font-style="italic" font-size="48.62" fill="#1a1a1a"><tspan x="1190.29" y="337.10" textLength="29.99" lengthAdjust="spacingAndGlyphs">T</tspan><tspan x="1219.93" y="360.72" font-size="37.92" textLength="16.18" lengthAdjust="spacingAndGlyphs">s</tspan> <tspan x="1240.48" y="336.12" font-size="44.00" textLength="35.63" lengthAdjust="spacingAndGlyphs">=</tspan> <tspan x="1282.10" y="336.92" font-size="48.00" textLength="48.28" lengthAdjust="spacingAndGlyphs">50</tspan> <tspan x="1342.98" y="336.92" font-size="48.00" textLength="52.21" lengthAdjust="spacingAndGlyphs">°C</tspan></text>
<text transform="scale(1.4500,1)" font-family="'Liberation Serif', serif" font-style="italic" font-size="48.62" fill="#1a1a1a"><tspan x="1190.29" y="430.90" textLength="29.99" lengthAdjust="spacingAndGlyphs">T</tspan><tspan x="1219.93" y="454.52" font-size="37.92" textLength="16.18" lengthAdjust="spacingAndGlyphs">s</tspan> <tspan x="1240.48" y="429.92" font-size="44.00" textLength="35.63" lengthAdjust="spacingAndGlyphs">=</tspan> <tspan x="1282.83" y="430.72" font-size="48.36">35</tspan> <tspan x="1342.98" y="430.72" font-size="48.00" textLength="52.21" lengthAdjust="spacingAndGlyphs">°C</tspan></text>
</g>
<rect x="20.55" y="26.55" width="2186.75" height="1165.70" fill="none" stroke="#000000" stroke-width="4.8"/>
</g>
</svg>
</body>
</html>
